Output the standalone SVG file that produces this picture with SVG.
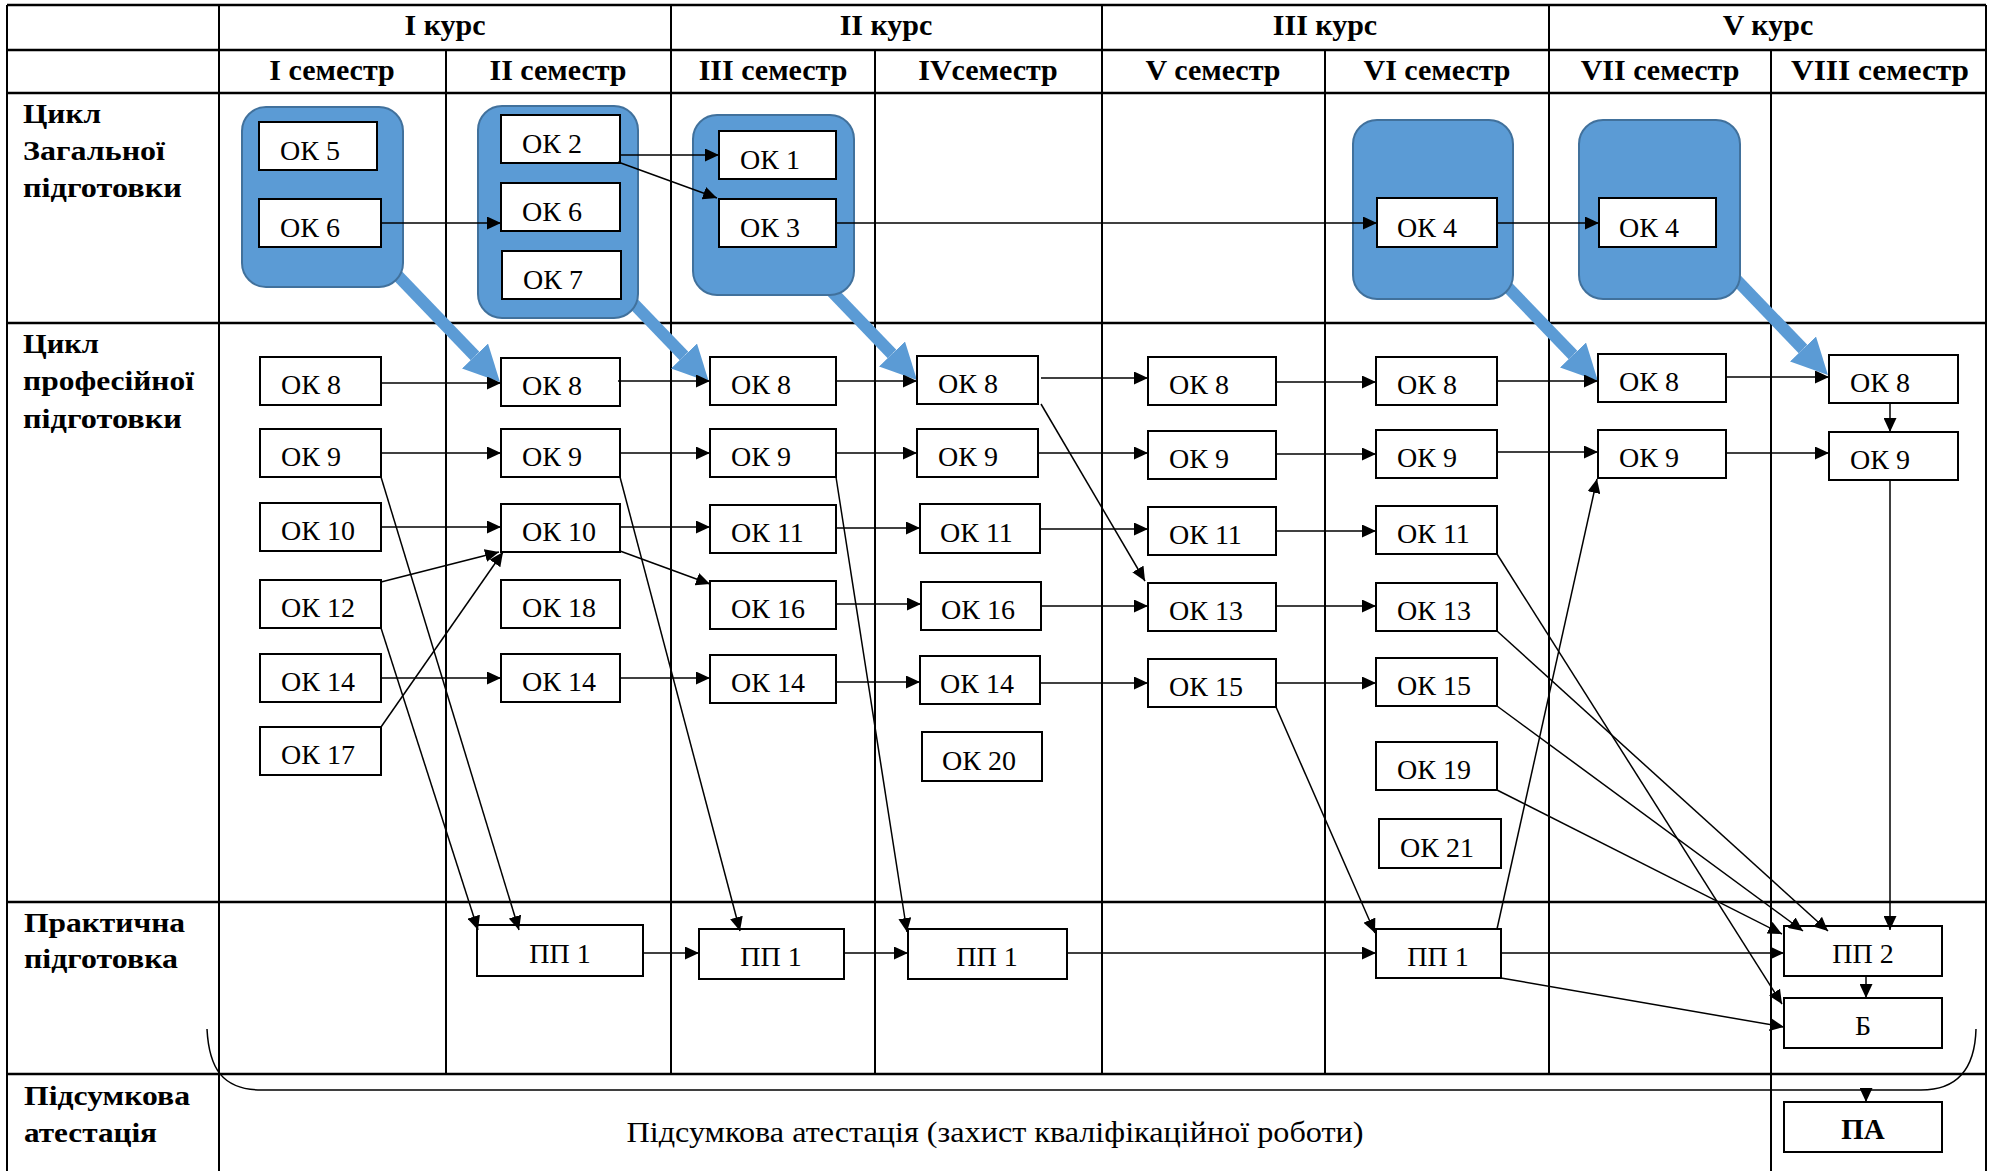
<svg xmlns="http://www.w3.org/2000/svg" width="2000" height="1171" viewBox="0 0 2000 1171">
<style>
.bg{fill:#fff}
.hl{stroke:#000;stroke-width:2.5}
.vl{stroke:#000;stroke-width:2}
.hd{font-family:"Liberation Serif","Times New Roman",serif;font-weight:bold;font-size:30px;text-anchor:middle;fill:#000}
.rl{font-family:"Liberation Serif","Times New Roman",serif;font-weight:bold;font-size:28px;fill:#000}
.grp{fill:#5B9BD5;stroke:#41719C;stroke-width:2}
.box{fill:#fff;stroke:#000;stroke-width:2}
.bt{font-family:"Liberation Serif","Times New Roman",serif;font-size:28px;fill:#000}
.ct{font-family:"Liberation Serif","Times New Roman",serif;font-size:28px;fill:#000;text-anchor:middle}
.cb{font-family:"Liberation Serif","Times New Roman",serif;font-size:29px;font-weight:bold;fill:#000;text-anchor:middle}
.c{stroke:#000;stroke-width:1.5;fill:none;marker-end:url(#ah)}
.cn{stroke:#000;stroke-width:1.5;fill:none}
.big{stroke:#5B9BD5;stroke-width:12;fill:none;marker-end:url(#bh)}
</style>
<defs>
<marker id="ah" markerUnits="userSpaceOnUse" markerWidth="14" markerHeight="13" refX="14" refY="6.5" orient="auto"><path d="M0,0 L14,6.5 L0,13 z" fill="#000"/></marker>
<marker id="bh" markerUnits="strokeWidth" markerWidth="3" markerHeight="3" refX="0" refY="1.5" orient="auto"><path d="M0,0 L3,1.5 L0,3 z" fill="#5B9BD5"/></marker>
</defs>
<rect class="bg" x="0" y="0" width="2000" height="1171"/>
<g id="grid">
<line class="hl" x1="7" y1="5" x2="1986" y2="5"/>
<line class="hl" x1="7" y1="50" x2="1986" y2="50"/>
<line class="hl" x1="7" y1="93" x2="1986" y2="93"/>
<line class="hl" x1="7" y1="323" x2="1986" y2="323"/>
<line class="hl" x1="7" y1="902" x2="1986" y2="902"/>
<line class="hl" x1="7" y1="1074" x2="1986" y2="1074"/>
<line class="vl" x1="7" y1="5" x2="7" y2="1171"/>
<line class="vl" x1="219" y1="5" x2="219" y2="1171"/>
<line class="vl" x1="446" y1="50" x2="446" y2="1074"/>
<line class="vl" x1="671" y1="5" x2="671" y2="1074"/>
<line class="vl" x1="875" y1="50" x2="875" y2="1074"/>
<line class="vl" x1="1102" y1="5" x2="1102" y2="1074"/>
<line class="vl" x1="1325" y1="50" x2="1325" y2="1074"/>
<line class="vl" x1="1549" y1="5" x2="1549" y2="1074"/>
<line class="vl" x1="1771" y1="50" x2="1771" y2="1171"/>
<line class="vl" x1="1986" y1="5" x2="1986" y2="1171"/>
</g>
<g id="headers">
<text class="hd" x="445" y="35">I курс</text>
<text class="hd" x="886" y="35">II курс</text>
<text class="hd" x="1325" y="35">III курс</text>
<text class="hd" x="1768" y="35">V курс</text>
<text class="hd" x="332" y="80">I семестр</text>
<text class="hd" x="558" y="80">II семестр</text>
<text class="hd" x="773" y="80">III семестр</text>
<text class="hd" x="988" y="80">IVсеместр</text>
<text class="hd" x="1213" y="80">V семестр</text>
<text class="hd" x="1437" y="80">VI семестр</text>
<text class="hd" x="1660" y="80">VII семестр</text>
<text class="hd" x="1880" y="80" textLength="178" lengthAdjust="spacingAndGlyphs">VIII семестр</text>
</g>
<g id="row-labels">
<text class="rl" x="23" y="123" textLength="78" lengthAdjust="spacingAndGlyphs">Цикл</text>
<text class="rl" x="23" y="160" textLength="142" lengthAdjust="spacingAndGlyphs">Загальної</text>
<text class="rl" x="23" y="197" textLength="159" lengthAdjust="spacingAndGlyphs">підготовки</text>
<text class="rl" x="23" y="353" textLength="76" lengthAdjust="spacingAndGlyphs">Цикл</text>
<text class="rl" x="23" y="390" textLength="171" lengthAdjust="spacingAndGlyphs">професійної</text>
<text class="rl" x="23" y="428" textLength="159" lengthAdjust="spacingAndGlyphs">підготовки</text>
<text class="rl" x="24" y="932" textLength="161" lengthAdjust="spacingAndGlyphs">Практична</text>
<text class="rl" x="24" y="968" textLength="154" lengthAdjust="spacingAndGlyphs">підготовка</text>
<text class="rl" x="24" y="1105" textLength="166" lengthAdjust="spacingAndGlyphs">Підсумкова</text>
<text class="rl" x="24" y="1142" textLength="133" lengthAdjust="spacingAndGlyphs">атестація</text>
</g>
<g id="blue-arrows">
<line class="big" x1="375" y1="252" x2="475" y2="356"/>
<line class="big" x1="584" y1="252" x2="684" y2="356"/>
<line class="big" x1="792" y1="250" x2="892" y2="354"/>
<line class="big" x1="1473" y1="251" x2="1573" y2="355"/>
<line class="big" x1="1703" y1="245" x2="1803" y2="349"/>
</g>
<g id="groups">
<rect id="g1" class="grp" x="242" y="107" width="161" height="180" rx="24"/>
<rect id="g2" class="grp" x="478" y="106" width="160" height="212" rx="24"/>
<rect id="g3" class="grp" x="693" y="115" width="161" height="180" rx="24"/>
<rect id="g6" class="grp" x="1353" y="120" width="160" height="179" rx="24"/>
<rect id="g7" class="grp" x="1579" y="120" width="161" height="179" rx="24"/>
</g>
<g id="n-s1-ok5"><rect class="box" x="259" y="122" width="118" height="48"/><text class="bt" x="280" y="160">ОК 5</text></g>
<g id="n-s1-ok6"><rect class="box" x="259" y="199" width="122" height="48"/><text class="bt" x="280" y="237">ОК 6</text></g>
<g id="n-s2-ok2"><rect class="box" x="501" y="115" width="119" height="48"/><text class="bt" x="522" y="153">ОК 2</text></g>
<g id="n-s2-ok6"><rect class="box" x="501" y="183" width="119" height="48"/><text class="bt" x="522" y="221">ОК 6</text></g>
<g id="n-s2-ok7"><rect class="box" x="502" y="251" width="119" height="48"/><text class="bt" x="523" y="289">ОК 7</text></g>
<g id="n-s3-ok1"><rect class="box" x="719" y="131" width="117" height="48"/><text class="bt" x="740" y="169">ОК 1</text></g>
<g id="n-s3-ok3"><rect class="box" x="719" y="199" width="117" height="48"/><text class="bt" x="740" y="237">ОК 3</text></g>
<g id="n-s6-ok4"><rect class="box" x="1377" y="198" width="120" height="49"/><text class="bt" x="1397" y="237">ОК 4</text></g>
<g id="n-s7-ok4"><rect class="box" x="1599" y="198" width="117" height="49"/><text class="bt" x="1619" y="237">ОК 4</text></g>

<g id="n-s1-ok8"><rect class="box" x="260" y="357" width="121" height="48"/><text class="bt" x="281" y="394">ОК 8</text></g>
<g id="n-s1-ok9"><rect class="box" x="260" y="429" width="121" height="48"/><text class="bt" x="281" y="466">ОК 9</text></g>
<g id="n-s1-ok10"><rect class="box" x="260" y="503" width="121" height="48"/><text class="bt" x="281" y="540">ОК 10</text></g>
<g id="n-s1-ok12"><rect class="box" x="260" y="580" width="121" height="48"/><text class="bt" x="281" y="617">ОК 12</text></g>
<g id="n-s1-ok14"><rect class="box" x="260" y="654" width="121" height="48"/><text class="bt" x="281" y="691">ОК 14</text></g>
<g id="n-s1-ok17"><rect class="box" x="260" y="727" width="121" height="48"/><text class="bt" x="281" y="764">ОК 17</text></g>

<g id="n-s2-ok8"><rect class="box" x="501" y="358" width="119" height="48"/><text class="bt" x="522" y="395">ОК 8</text></g>
<g id="n-s2-ok9"><rect class="box" x="501" y="429" width="119" height="48"/><text class="bt" x="522" y="466">ОК 9</text></g>
<g id="n-s2-ok10"><rect class="box" x="501" y="504" width="119" height="48"/><text class="bt" x="522" y="541">ОК 10</text></g>
<g id="n-s2-ok18"><rect class="box" x="501" y="580" width="119" height="48"/><text class="bt" x="522" y="617">ОК 18</text></g>
<g id="n-s2-ok14"><rect class="box" x="501" y="654" width="119" height="48"/><text class="bt" x="522" y="691">ОК 14</text></g>

<g id="n-s3-ok8"><rect class="box" x="710" y="357" width="126" height="48"/><text class="bt" x="731" y="394">ОК 8</text></g>
<g id="n-s3-ok9"><rect class="box" x="710" y="429" width="126" height="48"/><text class="bt" x="731" y="466">ОК 9</text></g>
<g id="n-s3-ok11"><rect class="box" x="710" y="505" width="126" height="48"/><text class="bt" x="731" y="542">ОК 11</text></g>
<g id="n-s3-ok16"><rect class="box" x="710" y="581" width="126" height="48"/><text class="bt" x="731" y="618">ОК 16</text></g>
<g id="n-s3-ok14"><rect class="box" x="710" y="655" width="126" height="48"/><text class="bt" x="731" y="692">ОК 14</text></g>

<g id="n-s4-ok8"><rect class="box" x="917" y="356" width="121" height="48"/><text class="bt" x="938" y="393">ОК 8</text></g>
<g id="n-s4-ok9"><rect class="box" x="917" y="429" width="121" height="48"/><text class="bt" x="938" y="466">ОК 9</text></g>
<g id="n-s4-ok11"><rect class="box" x="920" y="504" width="120" height="49"/><text class="bt" x="940" y="542">ОК 11</text></g>
<g id="n-s4-ok16"><rect class="box" x="921" y="582" width="120" height="48"/><text class="bt" x="941" y="619">ОК 16</text></g>
<g id="n-s4-ok14"><rect class="box" x="920" y="656" width="120" height="48"/><text class="bt" x="940" y="693">ОК 14</text></g>
<g id="n-s4-ok20"><rect class="box" x="922" y="732" width="120" height="49"/><text class="bt" x="942" y="770">ОК 20</text></g>

<g id="n-s5-ok8"><rect class="box" x="1148" y="357" width="128" height="48"/><text class="bt" x="1169" y="394">ОК 8</text></g>
<g id="n-s5-ok9"><rect class="box" x="1148" y="431" width="128" height="48"/><text class="bt" x="1169" y="468">ОК 9</text></g>
<g id="n-s5-ok11"><rect class="box" x="1148" y="507" width="128" height="48"/><text class="bt" x="1169" y="544">ОК 11</text></g>
<g id="n-s5-ok13"><rect class="box" x="1148" y="583" width="128" height="48"/><text class="bt" x="1169" y="620">ОК 13</text></g>
<g id="n-s5-ok15"><rect class="box" x="1148" y="659" width="128" height="48"/><text class="bt" x="1169" y="696">ОК 15</text></g>

<g id="n-s6-ok8"><rect class="box" x="1376" y="357" width="121" height="48"/><text class="bt" x="1397" y="394">ОК 8</text></g>
<g id="n-s6-ok9"><rect class="box" x="1376" y="430" width="121" height="48"/><text class="bt" x="1397" y="467">ОК 9</text></g>
<g id="n-s6-ok11"><rect class="box" x="1376" y="506" width="121" height="48"/><text class="bt" x="1397" y="543">ОК 11</text></g>
<g id="n-s6-ok13"><rect class="box" x="1376" y="583" width="121" height="48"/><text class="bt" x="1397" y="620">ОК 13</text></g>
<g id="n-s6-ok15"><rect class="box" x="1376" y="658" width="121" height="48"/><text class="bt" x="1397" y="695">ОК 15</text></g>
<g id="n-s6-ok19"><rect class="box" x="1376" y="742" width="121" height="48"/><text class="bt" x="1397" y="779">ОК 19</text></g>
<g id="n-s6-ok21"><rect class="box" x="1379" y="819" width="122" height="49"/><text class="bt" x="1400" y="857">ОК 21</text></g>

<g id="n-s7-ok8"><rect class="box" x="1598" y="354" width="128" height="48"/><text class="bt" x="1619" y="391">ОК 8</text></g>
<g id="n-s7-ok9"><rect class="box" x="1598" y="430" width="128" height="48"/><text class="bt" x="1619" y="467">ОК 9</text></g>
<g id="n-s8-ok8"><rect class="box" x="1829" y="355" width="129" height="48"/><text class="bt" x="1850" y="392">ОК 8</text></g>
<g id="n-s8-ok9"><rect class="box" x="1829" y="432" width="129" height="48"/><text class="bt" x="1850" y="469">ОК 9</text></g>

<g id="n-s2-pp1"><rect class="box" x="477" y="925" width="166" height="51"/><text class="ct" x="560" y="963">ПП 1</text></g>
<g id="n-s3-pp1"><rect class="box" x="699" y="929" width="145" height="50"/><text class="ct" x="771" y="966">ПП 1</text></g>
<g id="n-s4-pp1"><rect class="box" x="908" y="929" width="159" height="50"/><text class="ct" x="987" y="966">ПП 1</text></g>
<g id="n-s6-pp1"><rect class="box" x="1376" y="929" width="125" height="49"/><text class="ct" x="1438" y="966">ПП 1</text></g>
<g id="n-pp2"><rect class="box" x="1784" y="926" width="158" height="50"/><text class="ct" x="1863" y="963">ПП 2</text></g>
<g id="n-b"><rect class="box" x="1784" y="998" width="158" height="50"/><text class="ct" x="1863" y="1035">Б</text></g>
<g id="n-pa"><rect class="box" x="1784" y="1102" width="158" height="50"/><text class="cb" x="1863" y="1139">ПА</text></g>
<g id="n-final"><text class="ct" x="995" y="1142" style="font-size:29px" textLength="737" lengthAdjust="spacingAndGlyphs">Підсумкова атестація (захист кваліфікаційної роботи)</text></g>

<g id="connectors">
<line class="c" x1="381" y1="223" x2="501" y2="223"/>
<line class="c" x1="620" y1="155" x2="719" y2="155"/>
<line class="c" x1="618" y1="162" x2="717" y2="198"/>
<line class="c" x1="836" y1="223" x2="1377" y2="223"/>
<line class="c" x1="1497" y1="223" x2="1599" y2="223"/>

<line class="c" x1="381" y1="383" x2="501" y2="383"/>
<line class="c" x1="618" y1="381" x2="710" y2="381"/>
<line class="c" x1="836" y1="381" x2="917" y2="381"/>
<line class="c" x1="1041" y1="378" x2="1148" y2="378"/>
<line class="c" x1="1276" y1="382" x2="1376" y2="382"/>
<line class="c" x1="1497" y1="381" x2="1598" y2="381"/>
<line class="c" x1="1726" y1="377" x2="1829" y2="377"/>
<line class="c" x1="1890" y1="403" x2="1890" y2="432"/>

<line class="c" x1="381" y1="453" x2="501" y2="453"/>
<line class="c" x1="620" y1="453" x2="710" y2="453"/>
<line class="c" x1="836" y1="453" x2="917" y2="453"/>
<line class="c" x1="1038" y1="453" x2="1148" y2="453"/>
<line class="c" x1="1276" y1="454" x2="1376" y2="454"/>
<line class="c" x1="1497" y1="452" x2="1598" y2="452"/>
<line class="c" x1="1726" y1="453" x2="1829" y2="453"/>

<line class="c" x1="381" y1="527" x2="501" y2="527"/>
<line class="c" x1="620" y1="527" x2="710" y2="527"/>
<line class="c" x1="836" y1="528" x2="920" y2="528"/>
<line class="c" x1="1040" y1="529" x2="1148" y2="529"/>
<line class="c" x1="1276" y1="531" x2="1376" y2="531"/>

<line class="c" x1="381" y1="582" x2="499" y2="552"/>
<line class="c" x1="381" y1="727" x2="503" y2="552"/>
<line class="c" x1="620" y1="551" x2="710" y2="584"/>

<line class="c" x1="836" y1="604" x2="921" y2="604"/>
<line class="c" x1="1041" y1="606" x2="1148" y2="606"/>
<line class="c" x1="1276" y1="606" x2="1376" y2="606"/>

<line class="c" x1="381" y1="678" x2="501" y2="678"/>
<line class="c" x1="620" y1="678" x2="710" y2="678"/>
<line class="c" x1="836" y1="682" x2="920" y2="682"/>
<line class="c" x1="1040" y1="683" x2="1148" y2="683"/>
<line class="c" x1="1276" y1="683" x2="1376" y2="683"/>

<line class="c" x1="1041" y1="404" x2="1145" y2="581"/>
<line class="c" x1="381" y1="477" x2="519" y2="930"/>
<line class="c" x1="381" y1="628" x2="478" y2="930"/>
<line class="c" x1="620" y1="477" x2="740" y2="931"/>
<line class="c" x1="836" y1="477" x2="907" y2="932"/>
<line class="c" x1="1276" y1="707" x2="1375" y2="933"/>
<line class="c" x1="1497" y1="929" x2="1597" y2="479"/>
<line class="c" x1="1497" y1="554" x2="1782" y2="1004"/>
<line class="c" x1="1497" y1="631" x2="1828" y2="931"/>
<line class="c" x1="1497" y1="706" x2="1803" y2="931"/>
<line class="c" x1="1497" y1="790" x2="1782" y2="934"/>
<line class="c" x1="1890" y1="480" x2="1890" y2="930"/>

<line class="c" x1="643" y1="953" x2="699" y2="953"/>
<line class="c" x1="844" y1="953" x2="908" y2="953"/>
<line class="c" x1="1067" y1="953" x2="1376" y2="953"/>
<line class="c" x1="1501" y1="953" x2="1784" y2="953"/>
<line class="c" x1="1501" y1="978" x2="1784" y2="1027"/>
<line class="c" x1="1866" y1="976" x2="1866" y2="998"/>
<path class="cn" d="M207,1029 C209,1068 222,1090 262,1090 L1921,1090 C1958,1090 1975,1068 1976,1029"/>
<line class="c" x1="1866" y1="1090" x2="1866" y2="1102"/>
</g>
</svg>
